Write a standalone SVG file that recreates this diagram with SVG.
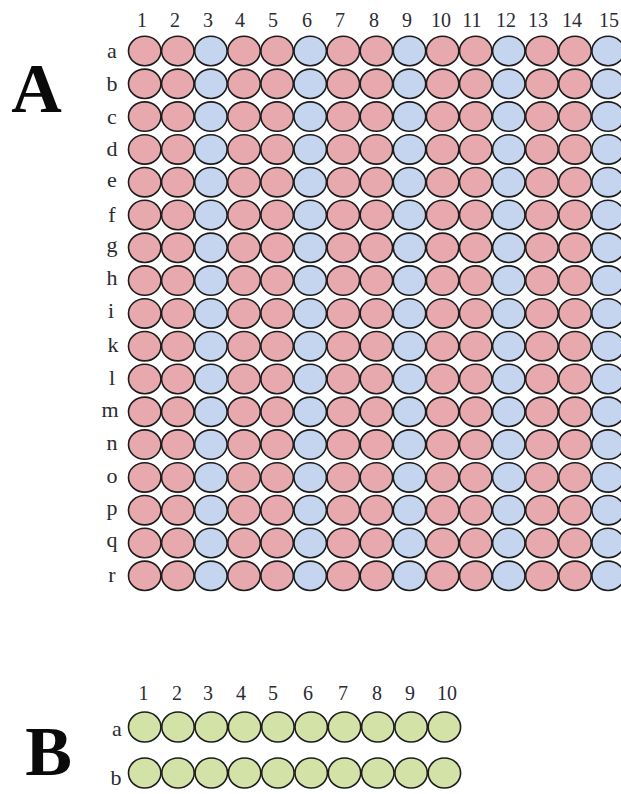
<svg xmlns="http://www.w3.org/2000/svg" xmlns:xlink="http://www.w3.org/1999/xlink" width="621" height="794" viewBox="0 0 621 794">
<style>
.bg{fill:#ffffff}
.w{stroke:#1c1c1c;stroke-width:1.6}
.p{fill:#e8a9ae}
.u{fill:#c5d5ef}
.g{fill:#d3e3a8}
.big{font-family:"Liberation Serif","Times New Roman",serif;font-weight:bold;font-size:70px;fill:#0a0a0a;text-anchor:middle}
.hd{font-family:"Liberation Serif","Times New Roman",serif;font-size:20px;fill:#2b2b33;text-anchor:middle}
.hdb{font-family:"Liberation Serif","Times New Roman",serif;font-size:20px;fill:#2b2b33;text-anchor:middle}
.rl{font-family:"Liberation Serif","Times New Roman",serif;font-size:22px;fill:#2b2b33;text-anchor:middle}
</style>
<defs>
<g id="rowA">
<ellipse class="w p" cx="144.7" cy="0" rx="16.2" ry="14.7"/>
<ellipse class="w p" cx="177.8" cy="0" rx="16.2" ry="14.7"/>
<ellipse class="w u" cx="210.9" cy="0" rx="16.2" ry="14.7"/>
<ellipse class="w p" cx="244.0" cy="0" rx="16.2" ry="14.7"/>
<ellipse class="w p" cx="277.1" cy="0" rx="16.2" ry="14.7"/>
<ellipse class="w u" cx="310.2" cy="0" rx="16.2" ry="14.7"/>
<ellipse class="w p" cx="343.3" cy="0" rx="16.2" ry="14.7"/>
<ellipse class="w p" cx="376.4" cy="0" rx="16.2" ry="14.7"/>
<ellipse class="w u" cx="409.5" cy="0" rx="16.2" ry="14.7"/>
<ellipse class="w p" cx="442.6" cy="0" rx="16.2" ry="14.7"/>
<ellipse class="w p" cx="475.7" cy="0" rx="16.2" ry="14.7"/>
<ellipse class="w u" cx="508.8" cy="0" rx="16.2" ry="14.7"/>
<ellipse class="w p" cx="541.9" cy="0" rx="16.2" ry="14.7"/>
<ellipse class="w p" cx="575.0" cy="0" rx="16.2" ry="14.7"/>
<ellipse class="w u" cx="608.1" cy="0" rx="16.2" ry="14.7"/>
</g>
<g id="rowB">
<ellipse class="w g" cx="144.7" cy="0" rx="16.2" ry="15"/>
<ellipse class="w g" cx="178.0" cy="0" rx="16.2" ry="15"/>
<ellipse class="w g" cx="211.3" cy="0" rx="16.2" ry="15"/>
<ellipse class="w g" cx="244.6" cy="0" rx="16.2" ry="15"/>
<ellipse class="w g" cx="277.9" cy="0" rx="16.2" ry="15"/>
<ellipse class="w g" cx="311.2" cy="0" rx="16.2" ry="15"/>
<ellipse class="w g" cx="344.5" cy="0" rx="16.2" ry="15"/>
<ellipse class="w g" cx="377.8" cy="0" rx="16.2" ry="15"/>
<ellipse class="w g" cx="411.1" cy="0" rx="16.2" ry="15"/>
<ellipse class="w g" cx="444.4" cy="0" rx="16.2" ry="15"/>
</g>
</defs>
<rect class="bg" x="0" y="0" width="621" height="794"/>

<g id="plateA">
<text class="big" x="36.5" y="112">A</text>
<g id="plateA-cols">
<text class="hd" x="142" y="27">1</text>
<text class="hd" x="175" y="27">2</text>
<text class="hd" x="208" y="27">3</text>
<text class="hd" x="240" y="27">4</text>
<text class="hd" x="273" y="27">5</text>
<text class="hd" x="307" y="27">6</text>
<text class="hd" x="340" y="27">7</text>
<text class="hd" x="374" y="27">8</text>
<text class="hd" x="407" y="27">9</text>
<text class="hd" x="441" y="27">10</text>
<text class="hd" x="472" y="27">11</text>
<text class="hd" x="506" y="27">12</text>
<text class="hd" x="538" y="27">13</text>
<text class="hd" x="572" y="27">14</text>
<text class="hd" x="609" y="27">15</text>
</g>
<g id="A-a"><text class="rl" x="112" y="58">a</text><use xlink:href="#rowA" href="#rowA" y="51"/></g>
<g id="A-b"><text class="rl" x="112" y="91">b</text><use xlink:href="#rowA" href="#rowA" y="83.8"/></g>
<g id="A-c"><text class="rl" x="112" y="123.6">c</text><use xlink:href="#rowA" href="#rowA" y="116.6"/></g>
<g id="A-d"><text class="rl" x="112" y="156.4">d</text><use xlink:href="#rowA" href="#rowA" y="149.4"/></g>
<g id="A-e"><text class="rl" x="112" y="187">e</text><use xlink:href="#rowA" href="#rowA" y="182.2"/></g>
<g id="A-f"><text class="rl" x="112" y="222">f</text><use xlink:href="#rowA" href="#rowA" y="215"/></g>
<g id="A-g"><text class="rl" x="112" y="252">g</text><use xlink:href="#rowA" href="#rowA" y="247.8"/></g>
<g id="A-h"><text class="rl" x="112" y="285">h</text><use xlink:href="#rowA" href="#rowA" y="280.6"/></g>
<g id="A-i"><text class="rl" x="111" y="318">i</text><use xlink:href="#rowA" href="#rowA" y="313.4"/></g>
<g id="A-k"><text class="rl" x="113" y="352">k</text><use xlink:href="#rowA" href="#rowA" y="346.2"/></g>
<g id="A-l"><text class="rl" x="112" y="385">l</text><use xlink:href="#rowA" href="#rowA" y="379"/></g>
<g id="A-m"><text class="rl" x="110" y="417">m</text><use xlink:href="#rowA" href="#rowA" y="411.8"/></g>
<g id="A-n"><text class="rl" x="112" y="450">n</text><use xlink:href="#rowA" href="#rowA" y="444.6"/></g>
<g id="A-o"><text class="rl" x="112" y="483">o</text><use xlink:href="#rowA" href="#rowA" y="477.4"/></g>
<g id="A-p"><text class="rl" x="112" y="515">p</text><use xlink:href="#rowA" href="#rowA" y="510.2"/></g>
<g id="A-q"><text class="rl" x="112" y="547">q</text><use xlink:href="#rowA" href="#rowA" y="543"/></g>
<g id="A-r"><text class="rl" x="112" y="582">r</text><use xlink:href="#rowA" href="#rowA" y="575.8"/></g>
</g>

<g id="plateB">
<text class="big" x="48.5" y="775">B</text>
<g id="plateB-cols">
<text class="hdb" x="143.5" y="700">1</text>
<text class="hdb" x="177" y="700">2</text>
<text class="hdb" x="208" y="700">3</text>
<text class="hdb" x="241" y="700">4</text>
<text class="hdb" x="273" y="700">5</text>
<text class="hdb" x="308" y="700">6</text>
<text class="hdb" x="343" y="700">7</text>
<text class="hdb" x="377" y="700">8</text>
<text class="hdb" x="410" y="700">9</text>
<text class="hdb" x="447" y="700">10</text>
</g>
<g id="B-a"><text class="rl" x="117" y="736">a</text><use xlink:href="#rowB" href="#rowB" y="727"/></g>
<g id="B-b"><text class="rl" x="116" y="785">b</text><use xlink:href="#rowB" href="#rowB" y="773"/></g>
</g>
</svg>
